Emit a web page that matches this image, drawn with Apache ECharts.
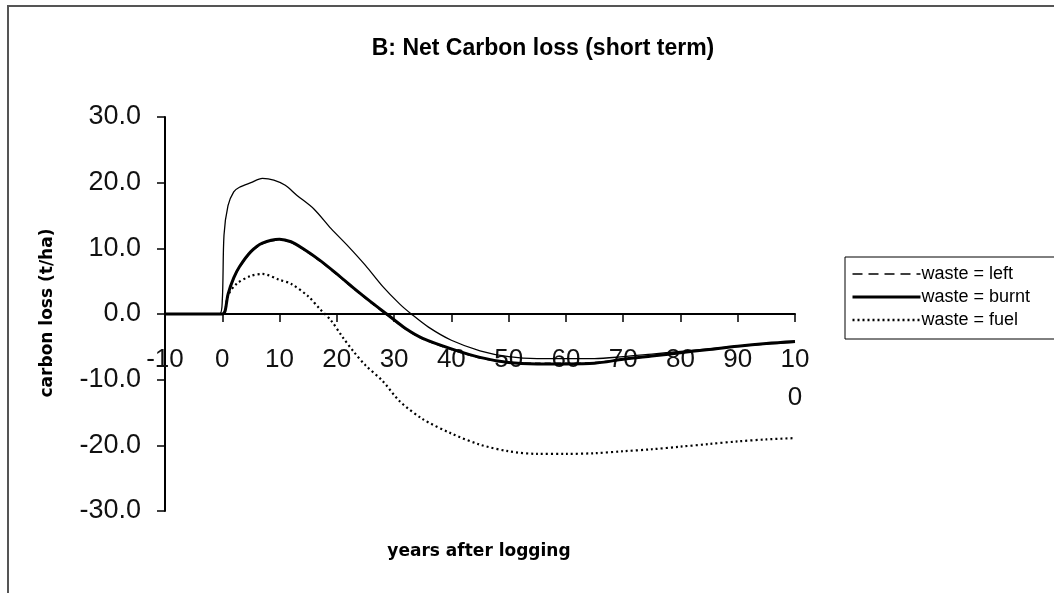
<!DOCTYPE html>
<html>
<head>
<meta charset="utf-8">
<script src="https://cdn.jsdelivr.net/npm/echarts@6/dist/echarts.min.js"></script>
<style>html,body{margin:0;padding:0;background:#fff;}#c{width:1054px;height:593px;}</style>
</head>
<body>
<div id="c"></div>
<script>
// ---- data ----
const titleText = 'B: Net Carbon loss (short term)';
const yName = 'carbon loss (t/ha)';
const xName = 'years after logging';
const xTickLabels = ['-10','0','10','20','30','40','50','60','70','80','90','10\n0'];
const yTickLabels = ['-30.0','-20.0','-10.0','0.0','10.0','20.0','30.0'];

const upperYears = [-10,-0.5,0,0.3,1,2,3,5,7,9,11,13,16,19,22,25,28,31,33,36,40,45,50,55,60,65,70,75,80,85,90,95,100];
const upperVals  = [0,0,2,12,16.5,18.6,19.3,20.0,20.65,20.4,19.6,18.1,16.0,13.0,10.3,7.4,4.2,1.5,0,-2.0,-4.0,-5.6,-6.5,-6.8,-6.8,-6.8,-6.5,-6.1,-5.7,-5.3,-4.9,-4.6,-4.3];

const burntYears = [-10,0,0.5,1,2,3,5,7,10,12,14,17,20,23,26,29,32,35,40,45,50,55,60,65,70,75,80,85,90,95,100];
const burntVals  = [0,0,0.5,3.0,5.5,7.2,9.5,10.8,11.4,11.0,10.0,8.2,6.1,3.9,1.8,-0.2,-2.2,-3.7,-5.3,-6.6,-7.4,-7.6,-7.6,-7.5,-6.9,-6.4,-5.9,-5.4,-4.9,-4.5,-4.2];

const leftYears = [-10,0,0.5,1,2,3,5,7,10,12,14,17,20,23,26,29,32,35,40,45,50,55,60,65,70,75,80,85,90,95,100];
const leftVals  = [0,0,0.4,2.9,5.4,7.1,9.4,10.7,11.3,10.9,9.9,8.1,6.0,3.8,1.7,-0.3,-2.3,-3.8,-5.4,-6.7,-7.4,-7.5,-7.5,-7.4,-6.9,-6.4,-5.9,-5.4,-4.9,-4.5,-4.2];

const fuelYears = [-10,0,0.5,1,2.5,5,7,10,12,15,17,19,21,23,25,28,31,35,40,45,50,55,60,65,70,75,80,85,90,95,100];
const fuelVals  = [0,0,0.5,2.8,4.6,5.8,6.1,5.2,4.6,2.7,0.8,-1.0,-3.5,-5.8,-7.8,-10.2,-13.3,-16.0,-18.2,-19.9,-20.9,-21.3,-21.3,-21.2,-20.9,-20.6,-20.2,-19.8,-19.4,-19.1,-18.9];

function pairs(xs, ys){ return xs.map((x,i)=>[x, ys[i]]); }

const chart = echarts.init(document.getElementById('c'), null, {renderer:'canvas'});
const font = 'Liberation Sans, Arial, sans-serif';
const gridTop = 117, gridBottom = 82;
const plotH = 593 - gridTop - gridBottom;
chart.setOption({
  animation: false,
  backgroundColor: '#fff',
  title: {
    text: titleText, left: 538, top: 32, textAlign: 'center',
    textStyle: {fontFamily: font, fontSize: 23, fontWeight: 'bold', color: '#000'}
  },
  grid: {left: 165, top: gridTop, right: 259, bottom: gridBottom, containLabel: false},
  legend: {
    orient: 'vertical', left: 845, top: 257,
    data: [
      {name: 'waste = left', lineStyle: {width: 1.6, type: [10, 6]}, itemStyle: {opacity: 0}},
      {name: 'waste = burnt', lineStyle: {width: 3}, itemStyle: {opacity: 0}},
      {name: 'waste = fuel', lineStyle: {width: 2.5, type: [2, 3]}, itemStyle: {opacity: 0}}
    ],
    itemWidth: 68, itemHeight: 4, itemGap: 5,
    padding: [8, 80, 10, 6],
    borderColor: '#000', borderWidth: 1,
    textStyle: {fontFamily: font, fontSize: 18, color: '#000', padding: [0,0,0,-4]}
  },
  xAxis: {
    type: 'value', min: -10, max: 100, interval: 10,
    offset: -plotH / 2,
    axisLine: {onZero: false, lineStyle: {color: '#000', width: 2}},
    axisTick: {show: true, length: 8, lineStyle: {color: '#000', width: 1.5}},
    splitLine: {show: false},
    axisLabel: {
      fontFamily: font, fontSize: 26, color: '#111', margin: 27, lineHeight: 38,
      verticalAlign: 'top',
      formatter: v => xTickLabels[Math.round((v + 10) / 10)]
    }
  },
  yAxis: {
    type: 'value', min: -30, max: 30, interval: 10,
    axisLine: {onZero: false, lineStyle: {color: '#000', width: 2}},
    axisTick: {show: true, length: 8, lineStyle: {color: '#000', width: 1.5}},
    splitLine: {show: false},
    axisLabel: {
      fontFamily: font, fontSize: 27, color: '#111', margin: 24,
      formatter: v => yTickLabels[Math.round((v + 30) / 10)]
    }
  },
  graphic: [
    {type: 'rect', shape: {x: 8, y: 6, width: 1200, height: 800},
     style: {fill: 'none', stroke: '#555', lineWidth: 2}, silent: true, z: 100},
    {type: 'text', x: 48, y: 313, rotation: Math.PI/2,
     style: {text: yName, font: 'bold 17px "DejaVu Sans", Verdana, sans-serif', fill: '#000',
             textAlign: 'center', textVerticalAlign: 'middle'}},
    {type: 'text', x: 479, y: 552,
     style: {text: xName, font: 'bold 17px "DejaVu Sans", Verdana, sans-serif', fill: '#000',
             textAlign: 'center', textVerticalAlign: 'middle'}}
  ],
  series: [
    {name: 'upper', type: 'line', data: pairs(upperYears, upperVals), symbol: 'none', smooth: 0.3,
     itemStyle: {color: '#000'}, lineStyle: {color: '#000', width: 1.3}, z: 3},
    {name: 'waste = burnt', type: 'line', data: pairs(burntYears, burntVals), symbol: 'none', smooth: 0.3,
     itemStyle: {color: '#000'}, lineStyle: {color: '#000', width: 3}, z: 2},
    {name: 'waste = left', type: 'line', data: pairs(leftYears, leftVals), symbol: 'none', smooth: 0.3,
     itemStyle: {color: '#000'}, lineStyle: {color: '#000', width: 1.5, type: [6, 4]}, z: 4},
    {name: 'waste = fuel', type: 'line', data: pairs(fuelYears, fuelVals), symbol: 'none', smooth: 0.3,
     itemStyle: {color: '#000'}, lineStyle: {color: '#000', width: 2.2, type: [2, 3]}, z: 2}
  ]
});
</script>
</body>
</html>
